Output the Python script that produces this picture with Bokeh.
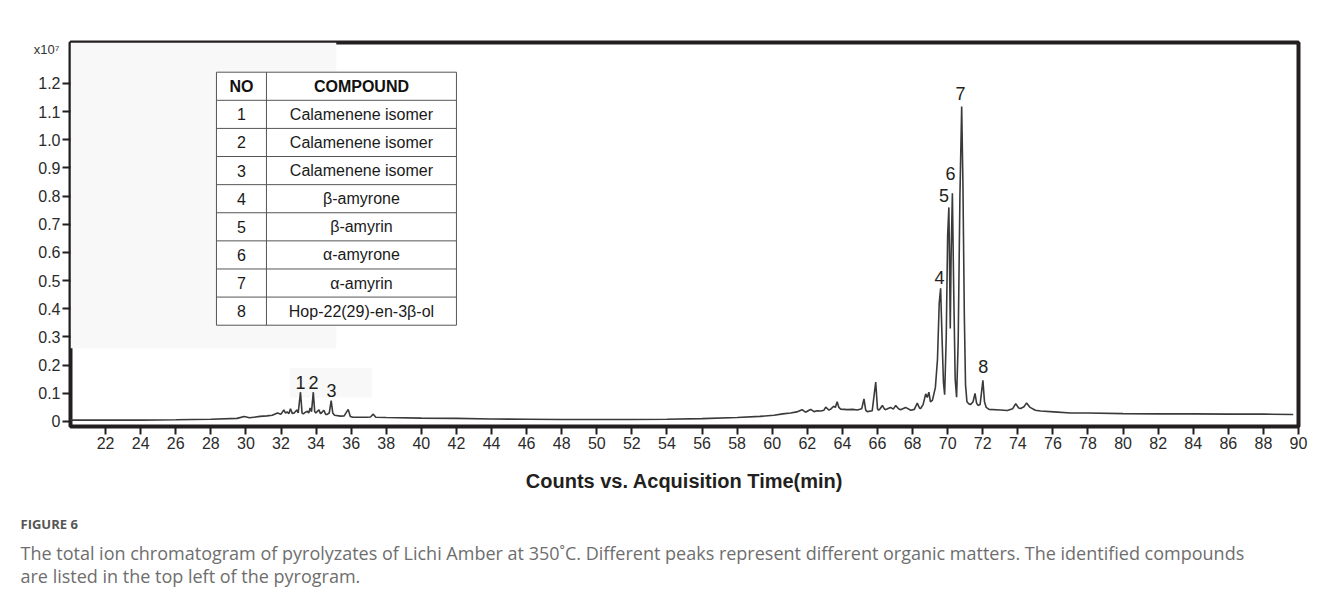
from bokeh.plotting import figure
from bokeh.models import Range1d, FixedTicker, CustomJSTickFormatter, LinearAxis, Title
from bokeh.core.properties import value
from bokeh.embed import file_html
from bokeh.resources import INLINE

# ---------------- data ----------------
time_min = [20.0, 22.0, 24.0, 26.0, 28.0, 29.5, 29.9, 30.2, 30.8, 31.2, 31.5, 31.8, 32.0, 32.16,
            32.26, 32.35, 32.45, 32.54, 32.65, 32.75, 32.9, 32.98, 33.11, 33.2, 33.27, 33.4, 33.5,
            33.58, 33.66, 33.74, 33.84, 33.92, 33.98, 34.16, 34.25, 34.3, 34.44, 34.55, 34.63,
            34.75, 34.86, 34.95, 35.05, 35.39, 35.6, 35.83, 35.95, 36.1, 36.9, 37.1, 37.26, 37.4,
            38.0, 40.0, 42.0, 44.0, 46.0, 48.0, 50.0, 52.0, 54.0, 56.0, 58.0, 59.3, 60.1, 60.6,
            61.05, 61.4, 61.7, 61.9, 62.1, 62.2, 62.38, 62.57, 62.76, 62.95, 63.05, 63.24, 63.35,
            63.5, 63.6, 63.7, 63.8, 63.9, 64.28, 64.6, 64.85, 65.1, 65.23, 65.33, 65.42, 65.7,
            65.9, 66.0, 66.06, 66.15, 66.28, 66.4, 66.47, 66.6, 66.75, 66.9, 67.04, 67.2, 67.32,
            67.6, 67.9, 68.1, 68.27, 68.4, 68.46, 68.6, 68.75, 68.84, 68.93, 69.02, 69.13, 69.3,
            69.42, 69.52, 69.6, 69.68, 69.76, 69.83, 69.92, 70.0, 70.07, 70.12, 70.15, 70.2,
            70.27, 70.35, 70.43, 70.51, 70.6, 70.7, 70.8, 70.87, 70.95, 71.02, 71.1, 71.2, 71.3,
            71.45, 71.56, 71.65, 71.73, 71.85, 72.01, 72.1, 72.2, 72.36, 73.0, 73.4, 73.7, 73.88,
            74.05, 74.16, 74.35, 74.5, 74.7, 75.0, 75.3, 76.06, 77.0, 78.0, 80.0, 82.0, 84.0,
            86.0, 88.0, 89.7]
counts_1e7 = [0.005, 0.005, 0.005, 0.006, 0.008, 0.011, 0.018, 0.013, 0.018, 0.020, 0.022, 0.030,
              0.026, 0.041, 0.030, 0.034, 0.028, 0.045, 0.028, 0.030, 0.041, 0.030, 0.104, 0.030,
              0.027, 0.033, 0.036, 0.030, 0.048, 0.035, 0.104, 0.035, 0.030, 0.041, 0.028, 0.030,
              0.040, 0.025, 0.025, 0.030, 0.074, 0.030, 0.022, 0.019, 0.020, 0.043, 0.018, 0.015,
              0.015, 0.016, 0.026, 0.015, 0.014, 0.012, 0.011, 0.009, 0.008, 0.007, 0.007, 0.007,
              0.008, 0.010, 0.014, 0.018, 0.022, 0.027, 0.030, 0.034, 0.042, 0.033, 0.040, 0.043,
              0.035, 0.038, 0.037, 0.040, 0.051, 0.040, 0.045, 0.054, 0.050, 0.070, 0.050, 0.044,
              0.042, 0.043, 0.041, 0.045, 0.080, 0.040, 0.035, 0.038, 0.140, 0.045, 0.040, 0.045,
              0.057, 0.044, 0.042, 0.046, 0.050, 0.044, 0.057, 0.045, 0.042, 0.050, 0.040, 0.043,
              0.065, 0.047, 0.046, 0.060, 0.098, 0.085, 0.104, 0.070, 0.075, 0.120, 0.220, 0.420,
              0.473, 0.300, 0.140, 0.095, 0.300, 0.660, 0.760, 0.500, 0.330, 0.600, 0.810, 0.450,
              0.150, 0.086, 0.280, 0.800, 1.118, 0.850, 0.380, 0.130, 0.070, 0.063, 0.060, 0.070,
              0.100, 0.065, 0.057, 0.060, 0.146, 0.070, 0.050, 0.043, 0.041, 0.039, 0.045, 0.063,
              0.048, 0.046, 0.052, 0.066, 0.050, 0.040, 0.037, 0.034, 0.030, 0.030, 0.028, 0.027,
              0.027, 0.026, 0.026, 0.025]

peak_numbers = ["1", "2", "3", "4", "5", "6", "7", "8"]
compounds = ["Calamenene isomer", "Calamenene isomer", "Calamenene isomer", "β-amyrone",
             "β-amyrin", "α-amyrone", "α-amyrin", "Hop-22(29)-en-3β-ol"]
table_header = ["NO", "COMPOUND"]
x_ticks = [22, 24, 26, 28, 30, 32, 34, 36, 38, 40, 42, 44, 46, 48, 50, 52, 54, 56, 58, 60, 62,
           64, 66, 68, 70, 72, 74, 76, 78, 80, 82, 84, 86, 88, 90]
y_ticks = [0, 0.1, 0.2, 0.3, 0.4, 0.5, 0.6, 0.7, 0.8, 0.9, 1.0, 1.1, 1.2]
multiplier = "x10⁷"

x_title = "Counts vs. Acquisition Time(min)"
fig_label = "FIGURE 6"
caption_lines = ["The total ion chromatogram of pyrolyzates of Lichi Amber at 350˚C. Different peaks represent different organic matters. The identified compounds",
                 "are listed in the top left of the pyrogram."]

# ---------------- layout / styles ----------------
INK = "#231f20"
FONT = "Liberation Sans"

p = figure(width=1321, height=598, x_range=Range1d(20, 90), y_range=Range1d(-0.0178, 1.3454),
           output_backend="svg", toolbar_location=None,
           min_border_left=70, min_border_right=23, min_border_top=42, min_border_bottom=172)
p.grid.visible = False
p.background_fill_color = "white"
p.border_fill_color = "white"
p.outline_line_color = INK
p.outline_line_width = 4

for ax in (p.xaxis[0], p.yaxis[0]):
    ax.axis_line_color = None
    ax.major_tick_out = 8
    ax.major_tick_in = 0
    ax.major_tick_line_width = 2
    ax.major_tick_line_color = INK
    ax.minor_tick_line_color = None
    ax.major_label_text_font = FONT
    ax.major_label_text_font_size = "16px"
    ax.major_label_text_color = "#2b2b2b"
    ax.major_label_standoff = 2

p.xaxis.ticker = FixedTicker(ticks=x_ticks)
p.yaxis.ticker = FixedTicker(ticks=y_ticks)
p.yaxis.formatter = CustomJSTickFormatter(code="return tick == 0 ? '0' : tick.toFixed(1);")
p.xaxis.axis_label = x_title
p.xaxis.axis_label_text_font = FONT
p.xaxis.axis_label_text_font_style = "bold"
p.xaxis.axis_label_text_font_size = "20px"
p.xaxis.axis_label_text_color = INK
p.xaxis.axis_label_standoff = 18

# multiplier shown as a second (label-only) left axis
mult_axis = LinearAxis(ticker=FixedTicker(ticks=[1.32]),
                       formatter=CustomJSTickFormatter(code="return '%s';" % multiplier),
                       axis_line_color=None, major_tick_line_color=None,
                       minor_tick_line_color=None, major_tick_out=0, major_tick_in=0,
                       major_label_standoff=-24, major_label_text_font=FONT,
                       major_label_text_font_size="13px", major_label_text_color="#333333")
p.add_layout(mult_axis, "left")

# faint scan patches of the original figure
p.quad(left=[20, 32.5], right=[35.15, 37.2], bottom=[0.26, 0.085], top=[1.345, 0.19],
       fill_color="#f8f8f8", line_color=None)

# chromatogram trace
p.line(time_min, counts_1e7, line_color="#3a3a3a", line_width=1.6)

# peak labels
peak_label_x = [33.11, 33.85, 34.88, 69.54, 69.79, 70.17, 70.74, 72.03]
peak_label_y = [0.138, 0.138, 0.110, 0.511, 0.802, 0.880, 1.164, 0.195]
p.text(x=peak_label_x, y=peak_label_y, text=peak_numbers, text_align="center",
       text_baseline="middle", text_font=value(FONT), text_font_size="18px", text_color=INK)

# compound table
t_left, t_mid, t_right = 28.32, 31.17, 42.0
t_top, row_h = 1.24, 0.0998
n_rows = len(compounds) + 1
t_bottom = t_top - n_rows * row_h
p.quad(left=[t_left], right=[t_right], top=[t_top], bottom=[t_bottom],
       fill_color="white", line_color=None)
h_y = [t_top - i * row_h for i in range(n_rows + 1)]
p.segment(x0=[t_left] * len(h_y), x1=[t_right] * len(h_y), y0=h_y, y1=h_y,
          line_color="#555555", line_width=1)
p.segment(x0=[t_left, t_mid, t_right], x1=[t_left, t_mid, t_right],
          y0=[t_top] * 3, y1=[t_bottom] * 3, line_color="#555555", line_width=1)
row_c = [t_top - (i + 1.5) * row_h for i in range(len(compounds))]
p.text(x=[(t_left + t_mid) / 2, (t_mid + t_right) / 2], y=[t_top - row_h / 2] * 2,
       text=table_header, text_align="center", text_baseline="middle",
       text_font=value(FONT), text_font_style="bold", text_font_size="16px", text_color="#111111")
p.text(x=[(t_left + t_mid) / 2] * len(peak_numbers), y=row_c, text=peak_numbers,
       text_align="center", text_baseline="middle", text_font=value(FONT),
       text_font_size="16px", text_color="#1a1a1a")
p.text(x=[(t_mid + t_right) / 2] * len(compounds), y=row_c, text=compounds,
       text_align="center", text_baseline="middle", text_font=value(FONT),
       text_font_size="16px", text_color="#1a1a1a")

# caption below the chart (title panels)
p.add_layout(Title(text=fig_label, align="left", offset=-50, text_font="Open Sans",
                   text_font_style="bold", text_font_size="13px", text_color="#555555",
                   standoff=37), "below")
p.add_layout(Title(text=caption_lines[0], align="left", offset=-50, text_font="Open Sans",
                   text_font_style="normal", text_font_size="18px", text_color="#6e6e6e",
                   standoff=-25), "below")
p.add_layout(Title(text=caption_lines[1], align="left", offset=-50, text_font="Open Sans",
                   text_font_style="normal", text_font_size="18px", text_color="#6e6e6e",
                   standoff=19), "below")

open("out.html", "w").write(file_html(p, INLINE))
